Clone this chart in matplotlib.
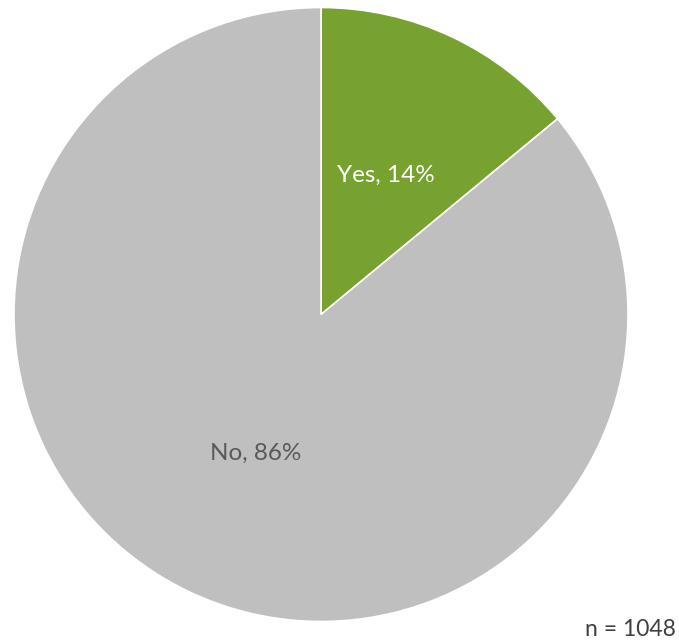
import matplotlib
matplotlib.use("Agg")
import matplotlib.pyplot as plt

categories = ["Yes", "No"]
values = [14, 86]
colors = ["#77A22F", "#BFBFBF"]
label_colors = ["white", "#595959"]
note = "n = 1048"

W, H = 679, 644
fig = plt.figure(figsize=(W / 100, H / 100), dpi=100)
cx, cy, r = 321, 314.5, 307
ax = fig.add_axes([(cx - r) / W, (H - cy - r) / H, 2 * r / W, 2 * r / H])

labels = [f"{c}, {v}%" for c, v in zip(categories, values)]
wedges, texts = ax.pie(values, labels=labels, colors=colors, startangle=90,
                       counterclock=False, labeldistance=0.5,
                       wedgeprops=dict(edgecolor="white", linewidth=1.2),
                       textprops=dict(fontsize=17.5, family=["Lato", "DejaVu Sans"]))
for t, c in zip(texts, label_colors):
    t.set_color(c)
    t.set_ha("center")
    t.set_va("center")
ax.set_xlim(-1, 1)
ax.set_ylim(-1, 1)
ax.set_aspect("equal")
ax.axis("off")

fig.text(676 / W, 1 - 630 / H, note, ha="right", va="center", fontsize=16.5,
         color="#404040", family=["Lato", "DejaVu Sans"])

fig.savefig("out.png", dpi=100)
